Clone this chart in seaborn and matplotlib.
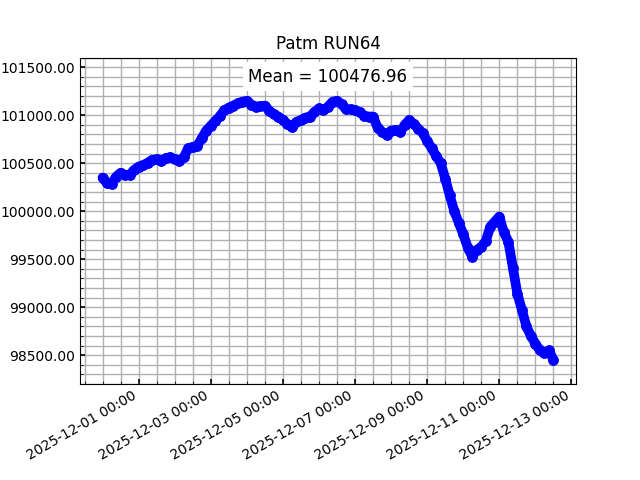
import pandas as pd
import matplotlib

matplotlib.use("Agg")
import matplotlib.pyplot as plt
import matplotlib.dates as mdates
import matplotlib.ticker as mticker
import seaborn as sns

# Datos: una muestra cada 3 horas desde 2025-11-30 00:00
inicio = "2025-11-30 00:00"
paso_horas = 3
patm = [
    100350, 100290, 100285, 100360, 100400, 100375, 100378, 100430, 100465, 100480,
    100505, 100535, 100540, 100524, 100552, 100562, 100540, 100520, 100560, 100655,
    100670, 100680, 100760, 100840, 100890, 100940, 100990, 101050, 101080, 101100,
    101125, 101140, 101150, 101110, 101090, 101092, 101100, 101045, 101010, 100985,
    100951, 100906, 100875, 100930, 100950, 100975, 100986, 101030, 101070, 101050,
    101090, 101140, 101150, 101115, 101060, 101060, 101050, 101030, 100995, 100986,
    100986, 100870, 100825, 100795, 100840, 100847, 100820, 100900, 100950, 100910,
    100860, 100815, 100730, 100656, 100575, 100500, 100340, 100165, 100000, 99880,
    99760, 99620, 99525, 99597, 99630, 99690, 99840, 99892, 99944, 99780,
    99683, 99410, 99140, 98972, 98800, 98700, 98620, 98550, 98520, 98550,
    98451,
]
titulo = "Patm RUN64"
texto_media = "Mean = 100476.96"

fechas = pd.date_range(inicio, periods=len(patm), freq=f"{paso_horas}h")
df = pd.DataFrame({"fecha": fechas, "patm": patm})

fig, ax = plt.subplots(figsize=(6.4, 4.8), dpi=100)

sns.lineplot(
    data=df,
    x="fecha",
    y="patm",
    color="blue",
    marker="o",
    markersize=7,
    markeredgecolor="blue",
    linewidth=7,
    solid_joinstyle="round",
    solid_capstyle="round",
    ax=ax,
)

ax.set_ylim(98200, 101600)
ax.set_title(titulo)
ax.set_xlabel("")
ax.set_ylabel("")

# Ejes: fechas cada 2 dias, menores cada 12 h
ax.xaxis.set_major_locator(mdates.DayLocator(bymonthday=[1, 3, 5, 7, 9, 11, 13]))
ax.xaxis.set_minor_locator(mdates.HourLocator(byhour=[0, 12]))
ax.xaxis.set_major_formatter(mdates.DateFormatter("%Y-%m-%d %H:%M"))
ax.yaxis.set_major_locator(mticker.MultipleLocator(500))
ax.yaxis.set_minor_locator(mticker.MultipleLocator(100))
ax.yaxis.set_major_formatter(mticker.FormatStrFormatter("%.2f"))
ax.tick_params(which="both", direction="in")
ax.tick_params(which="major", width=1.2)

ax.grid(which="both", color="#b0b0b0", linewidth=1)
ax.set_axisbelow(True)

ax.text(
    0.5,
    0.942,
    texto_media,
    transform=ax.transAxes,
    ha="center",
    va="center",
    fontsize=12,
    bbox=dict(boxstyle="square,pad=0.35", facecolor="white", edgecolor="none"),
)

fig.autofmt_xdate()
plt.savefig("out.png", dpi=100)
plt.close()
